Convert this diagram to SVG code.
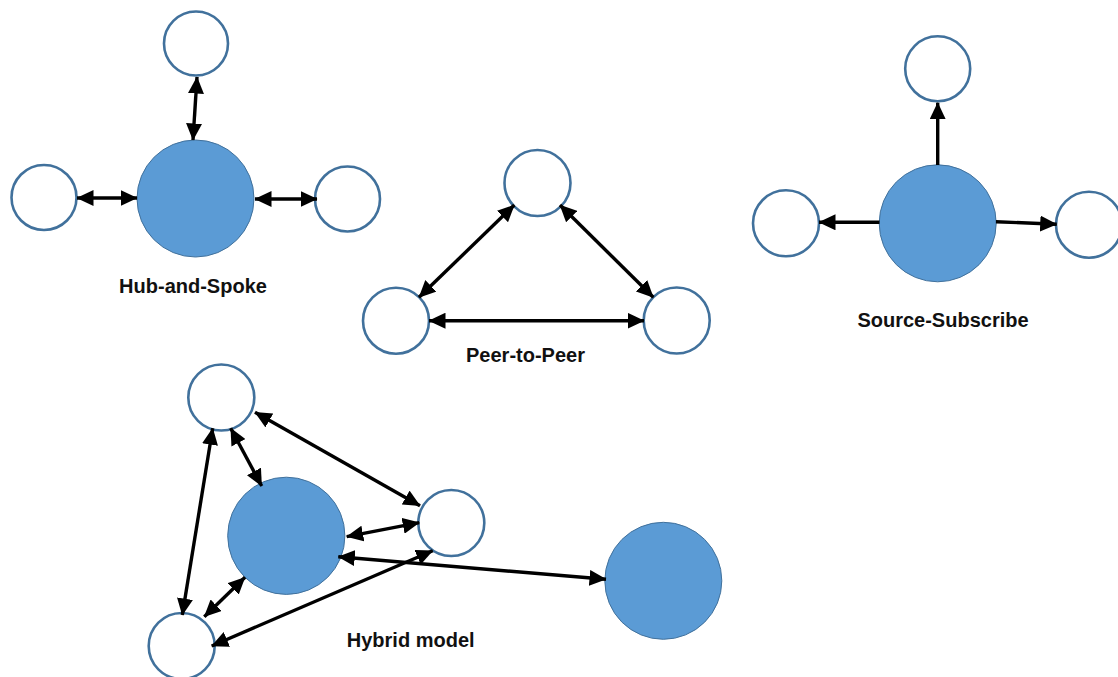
<svg xmlns="http://www.w3.org/2000/svg" width="1118" height="677" viewBox="0 0 1118 677">
  <style>
    .hub { fill: #5B9BD5; stroke: #41719C; stroke-width: 1; }
    .peer { fill: #FFFFFF; stroke: #41719C; stroke-width: 2.6; }
    .link { stroke: #000000; stroke-width: 3.4; fill: none; }
    .both { marker-start: url(#head); marker-end: url(#head); }
    .one { marker-end: url(#head); }
    .label { font-family: "Liberation Sans", Arial, sans-serif; font-weight: bold; font-size: 20px; fill: #111111; text-anchor: middle; }
  </style>
  <defs>
    <marker id="head" markerUnits="userSpaceOnUse" viewBox="0 0 17 16" markerWidth="17" markerHeight="16" refX="16.5" refY="8" orient="auto-start-reverse">
      <path d="M0,0 L17,8 L0,16 z" fill="#000000"/>
    </marker>
  </defs>
  <rect width="1118" height="677" fill="#FFFFFF"/>

  <!-- Hub-and-Spoke -->
  <g id="hs-hub"><circle class="hub" cx="195.5" cy="198.5" r="58.5"/></g>
  <g id="hs-top"><circle class="peer" cx="196" cy="43.5" r="32"/></g>
  <g id="hs-left"><circle class="peer" cx="44" cy="197.5" r="32.5"/></g>
  <g id="hs-right"><circle class="peer" cx="347.5" cy="199" r="32.5"/></g>
  <text class="label" x="193" y="293">Hub-and-Spoke</text>

  <!-- Peer-to-Peer -->
  <g id="p2p-top"><circle class="peer" cx="537.5" cy="183" r="33"/></g>
  <g id="p2p-left"><circle class="peer" cx="396" cy="320.7" r="33"/></g>
  <g id="p2p-right"><circle class="peer" cx="676.7" cy="320.5" r="33"/></g>
  <text class="label" x="525.5" y="362">Peer-to-Peer</text>

  <!-- Source-Subscribe -->
  <g id="ss-hub"><circle class="hub" cx="937.7" cy="223.3" r="58.5"/></g>
  <g id="ss-top"><circle class="peer" cx="937.7" cy="68.8" r="32.5"/></g>
  <g id="ss-left"><circle class="peer" cx="786" cy="223.3" r="33"/></g>
  <g id="ss-right"><circle class="peer" cx="1089" cy="224.7" r="33"/></g>
  <text class="label" x="943" y="327">Source-Subscribe</text>

  <!-- Hybrid model -->
  <g id="hy-hub"><circle class="hub" cx="286.3" cy="535.8" r="58.6"/></g>
  <g id="hy-top"><circle class="peer" cx="221.3" cy="397.5" r="33"/></g>
  <g id="hy-right"><circle class="peer" cx="451.3" cy="523" r="33"/></g>
  <g id="hy-bottom"><circle class="peer" cx="181.7" cy="646" r="33"/></g>
  <g id="hy-remote"><circle class="hub" cx="663.3" cy="580.8" r="58.5"/></g>
  <text class="label" x="410.7" y="647.3">Hybrid model</text>

  <!-- connectors -->
  <g id="connectors">
    <line class="link both" x1="197" y1="77" x2="193" y2="140"/>
    <line class="link both" x1="77" y1="198" x2="137" y2="198"/>
    <line class="link both" x1="255" y1="199" x2="317" y2="199"/>

    <line class="link both" x1="514.3" y1="205" x2="419" y2="297.3"/>
    <line class="link both" x1="560" y1="205" x2="653.3" y2="297.3"/>
    <line class="link both" x1="429" y1="320.7" x2="644" y2="320.7"/>

    <line class="link one" x1="937.7" y1="165" x2="937.7" y2="102.7"/>
    <line class="link one" x1="879.5" y1="222.3" x2="819" y2="222.3"/>
    <line class="link one" x1="996" y1="221.7" x2="1056.7" y2="224.3"/>

    <line class="link both" x1="255" y1="412.3" x2="420" y2="505.7"/>
    <line class="link both" x1="230.7" y1="428.3" x2="261.7" y2="486"/>
    <line class="link both" x1="212.7" y1="428.3" x2="182.3" y2="615"/>
    <line class="link both" x1="346.7" y1="536.7" x2="419.3" y2="522.7"/>
    <line class="link both" x1="245" y1="577.3" x2="204.3" y2="616.7"/>
    <line class="link both" x1="211.7" y1="646" x2="432.7" y2="550.7"/>
    <line class="link both" x1="338.3" y1="556.7" x2="606" y2="579.3"/>
  </g>
</svg>
